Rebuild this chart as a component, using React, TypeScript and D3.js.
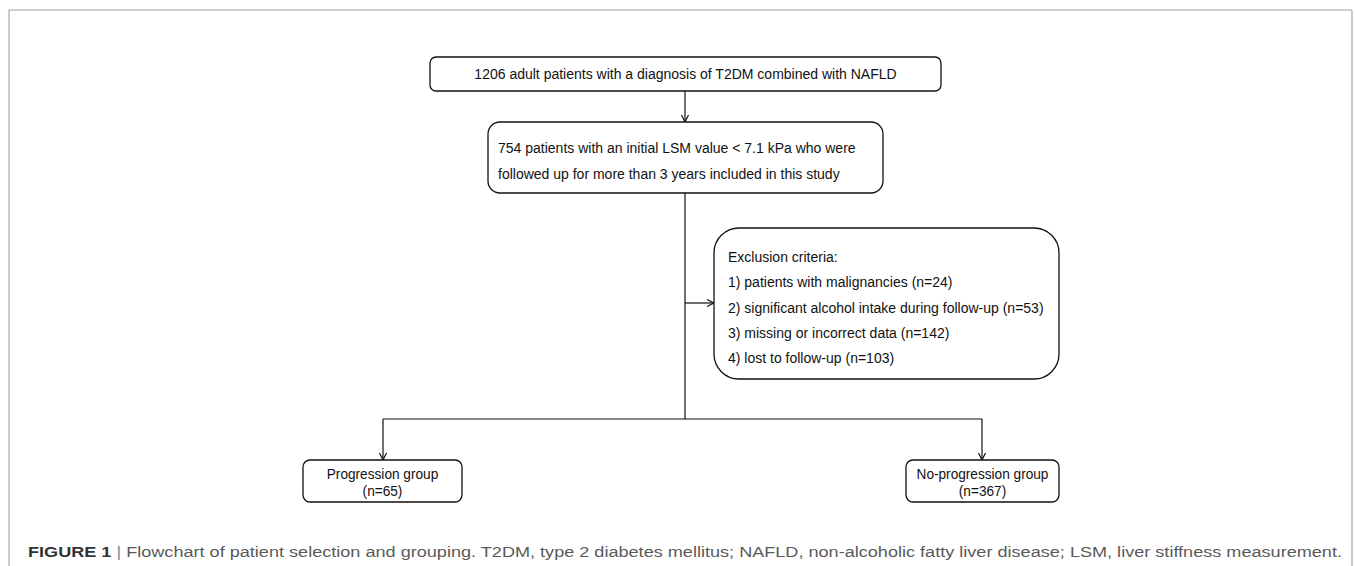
import React from 'react';
import * as d3 from 'd3';

// flowchart content
const topLabel = ['1206 adult patients with a diagnosis of T2DM combined with NAFLD'];
const includedLabel = [
  '754 patients with an initial LSM value < 7.1 kPa who were',
  'followed up for more than 3 years included in this study',
];
const exclusionLabel = [
  'Exclusion criteria:',
  '1) patients with malignancies (n=24)',
  '2) significant alcohol intake during follow-up (n=53)',
  '3) missing or incorrect data (n=142)',
  '4) lost to follow-up (n=103)',
];
const groupNames = ['Progression group', 'No-progression group'];
const groupCounts = [65, 367];
const captionLead = 'FIGURE 1';
const captionText =
  'Flowchart of patient selection and grouping. T2DM, type 2 diabetes mellitus; NAFLD, non-alcoholic fatty liver disease; LSM, liver stiffness measurement.';

const W = 1355;
const H = 566;
const FONT = '"Liberation Sans", Arial, Helvetica, sans-serif';

// layout
const box1 = { x0: 430, x1: 941, y0: 57, y1: 91, r: 6 };
const box2 = { x0: 488, x1: 883, y0: 122, y1: 193, r: 12 };
const box3 = { x0: 714, x1: 1059, y0: 228, y1: 379, r: 25 };
const groupBoxes = [
  { x0: 303, x1: 462, y0: 460, y1: 502, r: 7 },
  { x0: 906, x1: 1059, y0: 460, y1: 502, r: 7 },
];
const spineX = 685;
const branchY = 419;
const sideY = 303;
const dropX = [383, 982];

const line = d3.line<[number, number]>();

const Box = ({ b }: { b: { x0: number; x1: number; y0: number; y1: number; r: number } }) => (
  <rect
    x={b.x0}
    y={b.y0}
    width={b.x1 - b.x0}
    height={b.y1 - b.y0}
    rx={b.r}
    ry={b.r}
    fill="#fff"
    stroke="#111"
    strokeWidth={1.3}
  />
);

const Arrow = ({ pts, dir }: { pts: [number, number][]; dir: 'down' | 'right' }) => {
  const [ex, ey] = pts[pts.length - 1];
  const head: [number, number][] =
    dir === 'down'
      ? [[ex - 3.5, ey - 7], [ex, ey], [ex + 3.5, ey - 7]]
      : [[ex - 7, ey - 3.5], [ex, ey], [ex - 7, ey + 3.5]];
  return (
    <g fill="none" stroke="#111" strokeWidth={1.2}>
      <path d={line(pts) ?? ''} />
      <path d={line(head) ?? ''} />
    </g>
  );
};

export default function App() {
  const mid1 = (box1.x0 + box1.x1) / 2;
  return (
    <svg
      width={W}
      height={H}
      style={{ position: 'absolute', left: 0, top: 0, background: '#fff' }}
      fontFamily={FONT}
    >
      {/* frame */}
      <line x1={9} x2={1352} y1={10} y2={10} stroke="#cfcfcf" strokeWidth={2} />
      <line x1={9} x2={9} y1={10} y2={H} stroke="#a8a8a8" strokeWidth={1.2} />
      <line x1={1352} x2={1352} y1={10} y2={H} stroke="#a8a8a8" strokeWidth={1.2} />

      {/* connectors */}
      <Arrow pts={[[spineX, box1.y1], [spineX, box2.y0]]} dir="down" />
      <path d={line([[spineX, box2.y1], [spineX, branchY]]) ?? ''} stroke="#111" strokeWidth={1.2} fill="none" />
      <Arrow pts={[[spineX, sideY], [box3.x0, sideY]]} dir="right" />
      <path d={line([[dropX[0], branchY], [dropX[1], branchY]]) ?? ''} stroke="#111" strokeWidth={1.2} fill="none" />
      {dropX.map((x, i) => (
        <Arrow key={i} pts={[[x, branchY], [x, groupBoxes[i].y0]]} dir="down" />
      ))}

      {/* boxes */}
      <Box b={box1} />
      <Box b={box2} />
      <Box b={box3} />
      {groupBoxes.map((b, i) => (
        <Box key={i} b={b} />
      ))}

      {/* texts */}
      <g fill="#111" fontSize={14}>
        {topLabel.map((t, i) => (
          <text key={i} x={mid1} y={79} textAnchor="middle">
            {t}
          </text>
        ))}
        {includedLabel.map((t, i) => (
          <text key={i} x={498} y={153 + i * 26}>
            {t}
          </text>
        ))}
        {exclusionLabel.map((t, i) => (
          <text key={i} x={728} y={262 + i * 25.3}>
            {t}
          </text>
        ))}
      </g>
      {groupNames.map((name, i) => {
        const b = groupBoxes[i];
        const cx = (b.x0 + b.x1) / 2;
        return (
          <g key={i} transform={`translate(${cx},0) scale(0.91,1)`} fill="#111" fontSize={15}>
            <text x={0} y={479} textAnchor="middle">
              {name}
            </text>
            <text x={0} y={496} textAnchor="middle">
              {`(n=${groupCounts[i]})`}
            </text>
          </g>
        );
      })}

      {/* caption */}
      <text
        x={28}
        y={557}
        fontSize={15.5}
        fill="#5a5a5a"
        textLength={1314}
        lengthAdjust="spacingAndGlyphs"
      >
        <tspan fontWeight="bold" fill="#333">
          {captionLead}
        </tspan>
        <tspan fill="#888"> | </tspan>
        <tspan>{captionText}</tspan>
      </text>
    </svg>
  );
}
